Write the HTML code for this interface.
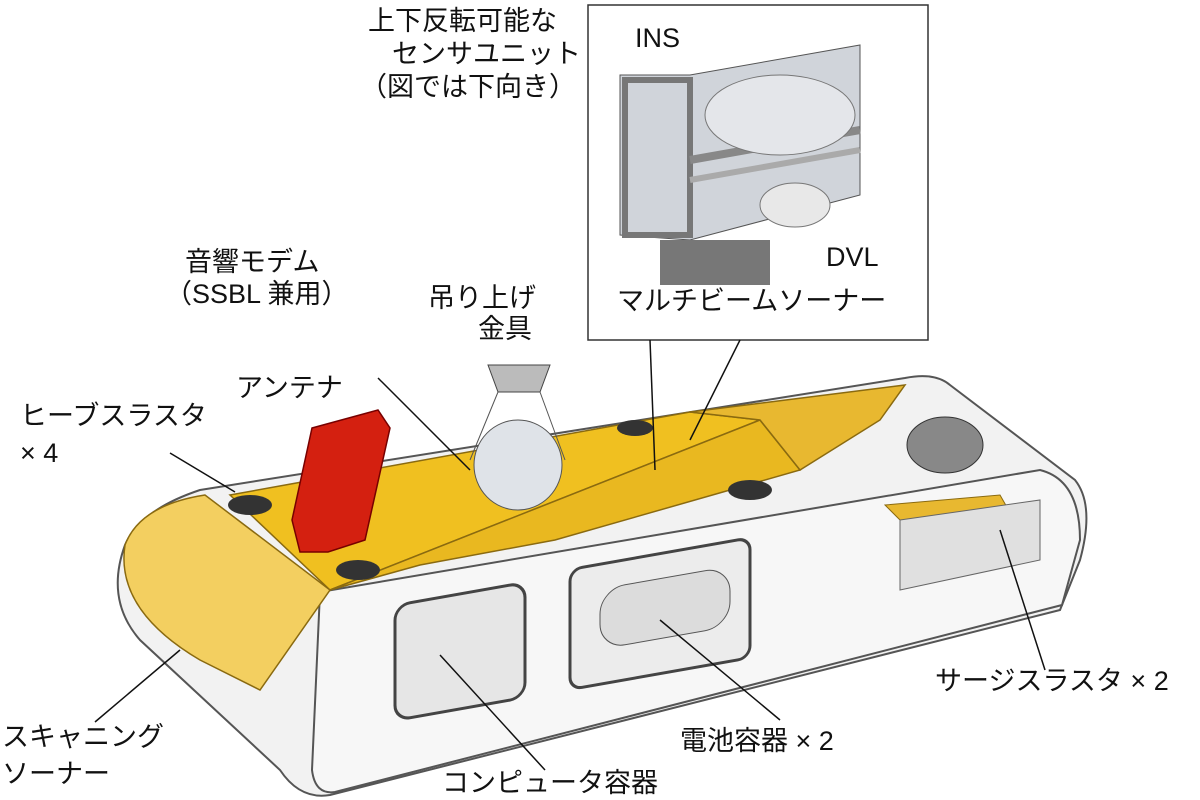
<!DOCTYPE html>
<html><head><meta charset="utf-8"><style>
html,body{margin:0;padding:0;background:#fff;}
svg{display:block}
text{font-family:"Liberation Sans","Noto Sans CJK JP",sans-serif;font-size:27px;fill:#111}
</style></head><body>
<svg width="1200" height="800" viewBox="0 0 1200 800" xmlns="http://www.w3.org/2000/svg">
<path d="M200,490 L905,378 Q935,372 950,385 L1075,480 Q1095,505 1080,560 L1060,610 L330,795 Q300,800 280,770 L140,640 Q105,600 125,545 Q140,510 200,490 Z" fill="#f2f2f2" stroke="#555" stroke-width="2"/>
<path d="M320,592 L1040,470 Q1080,480 1080,540 L1062,605 L335,792 Q315,795 312,770 Z" fill="#f7f7f7" stroke="#555" stroke-width="2"/>
<path d="M230,495 L690,412 L760,420 L330,590 Z" fill="#f0c020" stroke="#8a6a10" stroke-width="1.5"/>
<path d="M330,590 L760,420 L800,470 L555,540 L420,565 Z" fill="#e9b820" stroke="#8a6a10" stroke-width="1.5"/>
<path d="M690,412 L905,385 L880,420 L800,470 L760,420 Z" fill="#e8b830" stroke="#8a6a10" stroke-width="1.5"/>
<path d="M885,505 L1000,495 L1020,530 L910,530 Z" fill="#e8b830" stroke="#8a6a10"/>
<path d="M125,545 Q140,505 205,495 L330,590 Q295,640 260,690 L200,660 Q115,610 125,545 Z" fill="#f3cf60" stroke="#8a6a10" stroke-width="1.5"/>
<rect x="395" y="600" width="130" height="115" rx="15" fill="#e6e6e6" stroke="#444" stroke-width="3" transform="skewY(-10) translate(0,75)"/>
<rect x="570" y="560" width="180" height="120" rx="12" fill="#ececec" stroke="#444" stroke-width="3" transform="skewY(-10) translate(0,110)"/>
<rect x="600" y="585" width="130" height="60" rx="25" fill="#dcdcdc" stroke="#555" transform="skewY(-10) translate(0,110)"/>
<ellipse cx="250" cy="505" rx="22" ry="10" fill="#333"/>
<ellipse cx="358" cy="570" rx="22" ry="10" fill="#333"/>
<ellipse cx="750" cy="490" rx="22" ry="10" fill="#333"/>
<ellipse cx="635" cy="428" rx="18" ry="8" fill="#333"/>
<ellipse cx="945" cy="445" rx="38" ry="28" fill="#888" stroke="#333"/>
<path d="M900,520 L1040,500 L1040,560 L900,590 Z" fill="#e0e0e0" stroke="#666"/>
<path d="M312,428 L378,410 L390,428 L365,540 L328,552 L300,552 L292,520 Z" fill="#d42010" stroke="#700" stroke-width="1.5"/>
<ellipse cx="518" cy="465" rx="44" ry="45" fill="#dfe3e8" stroke="#555"/>
<path d="M488,365 L550,365 L540,392 L498,392 Z" fill="#bbb" stroke="#444"/>
<line x1="498" y1="392" x2="470" y2="460" stroke="#555"/><line x1="540" y1="392" x2="565" y2="460" stroke="#555"/>
<rect x="588" y="5" width="340" height="335" fill="#fff" stroke="#333" stroke-width="1.5"/>
<path d="M620,75 L690,75 L860,45 L860,195 L690,240 L620,235 Z" fill="#d0d4da" stroke="#555"/>
<rect x="625" y="80" width="65" height="155" fill="none" stroke="#777" stroke-width="6"/>
<line x1="690" y1="160" x2="860" y2="130" stroke="#888" stroke-width="8"/>
<line x1="690" y1="180" x2="860" y2="150" stroke="#aaa" stroke-width="6"/>
<ellipse cx="780" cy="115" rx="75" ry="40" fill="#e4e6ea" stroke="#777"/>
<path d="M660,240 L770,240 L770,285 L660,285 Z" fill="#777"/>
<ellipse cx="795" cy="205" rx="35" ry="22" fill="#e8e8e8" stroke="#777"/>
<g stroke="#111" stroke-width="1.5" fill="none">
<line x1="650" y1="340" x2="655" y2="470"/>
<line x1="740" y1="340" x2="690" y2="440"/>
<line x1="378" y1="378" x2="470" y2="470"/>
<line x1="170" y1="453" x2="235" y2="492"/>
<line x1="1045" y1="670" x2="1000" y2="530"/>
<line x1="780" y1="720" x2="660" y2="620"/>
<line x1="545" y1="770" x2="440" y2="655"/>
<line x1="95" y1="722" x2="180" y2="650"/>
</g>
<text x="368" y="30">上下反転可能な</text>
<text x="392" y="63">センサユニット</text>
<text x="360" y="96">（図では下向き）</text>
<text x="635" y="47">INS</text>
<text x="826" y="266">DVL</text>
<text x="617" y="310">マルチビームソーナー</text>
<text x="185" y="271">音響モデム</text>
<text x="165" y="303">（SSBL 兼用）</text>
<text x="428" y="307">吊り上げ</text>
<text x="478" y="338">金具</text>
<text x="236" y="397">アンテナ</text>
<text x="20" y="425">ヒーブスラスタ</text>
<text x="20" y="462">× 4</text>
<text x="935" y="690">サージスラスタ × 2</text>
<text x="680" y="750">電池容器 × 2</text>
<text x="2" y="746">スキャニング</text>
<text x="2" y="783">ソーナー</text>
<text x="442" y="792">コンピュータ容器</text>
</svg>
</body></html>
